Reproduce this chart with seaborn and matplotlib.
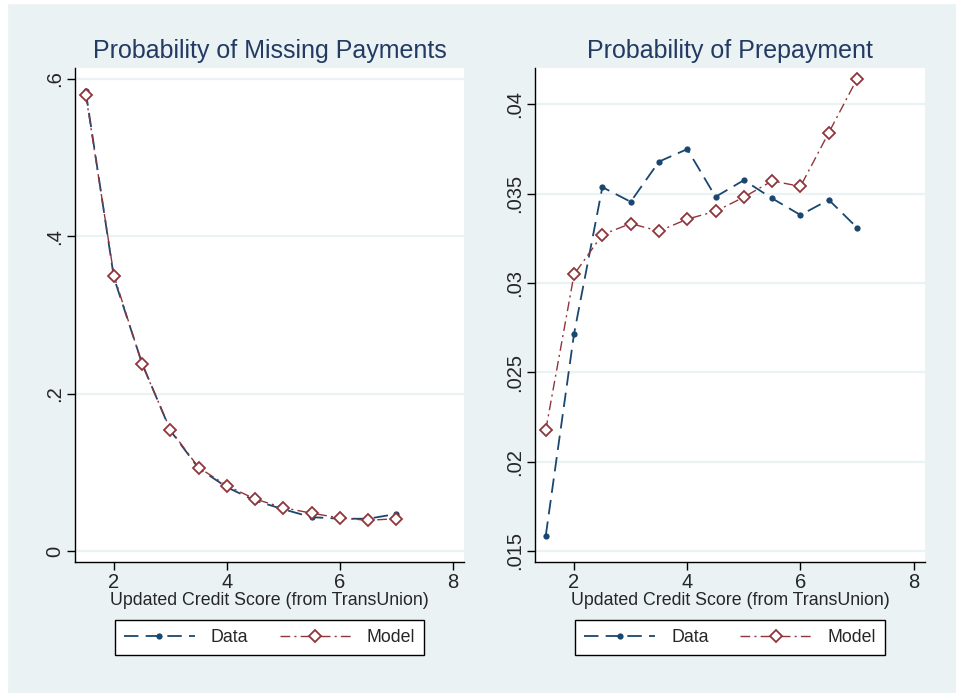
import numpy as np
import pandas as pd
import matplotlib
matplotlib.use("Agg")
import matplotlib.pyplot as plt
import seaborn as sns

# credit score bins
score = [1.5, 2, 2.5, 3, 3.5, 4, 4.5, 5, 5.5, 6, 6.5, 7]

# probability of missing payments
miss_data = [0.584, 0.347, 0.238, 0.153, 0.105, 0.081, 0.064, 0.053, 0.043, 0.041, 0.041, 0.047]
miss_model = [0.580, 0.350, 0.237, 0.154, 0.106, 0.083, 0.066, 0.055, 0.048, 0.042, 0.039, 0.041]

# probability of prepayment
prep_data = [0.01585, 0.02716, 0.03537, 0.03455, 0.0368, 0.0375, 0.03483,
             0.03576, 0.03474, 0.03381, 0.03466, 0.0331]
prep_model = [0.02177, 0.03048, 0.03271, 0.03333, 0.03291, 0.03358, 0.03402,
              0.03481, 0.03572, 0.03541, 0.03842, 0.04143]

titles = ["Probability of Missing Payments", "Probability of Prepayment"]
xlabel = "Updated Credit Score (from TransUnion)"
x_ticks = [2, 4, 6, 8]
left_yticks = [0, 0.2, 0.4, 0.6]
left_ylabels = ["0", ".2", ".4", ".6"]
right_yticks = [0.015, 0.02, 0.025, 0.03, 0.035, 0.04]
right_ylabels = [".015", ".02", ".025", ".03", ".035", ".04"]

BG = "#eaf2f3"
NAVY = "#1a476f"
MAROON = "#90353b"
TITLE = "#233a63"

sns.set_theme(style="white")
plt.rcParams['font.family'] = ['Liberation Sans', 'DejaVu Sans']

fig = plt.figure(figsize=(9.56, 6.93), dpi=100, facecolor=BG)
ax1 = fig.add_axes([75 / 956, 131 / 693, 389 / 956, 494.5 / 693])
ax2 = fig.add_axes([535 / 956, 131 / 693, 390 / 956, 494.5 / 693])

panels = [
    (ax1, miss_data, miss_model, left_yticks, left_ylabels, (-0.014, 0.6144)),
    (ax2, prep_data, prep_model, right_yticks, right_ylabels, (0.01438, 0.04207)),
]

for i, (ax, d, m, yt, yl, ylim) in enumerate(panels):
    df = pd.DataFrame({"score": score, "Data": d, "Model": m})
    ax.set_facecolor("white")
    for y in yt:
        ax.axhline(y, color=BG, lw=1.6, zorder=0)
    sns.lineplot(data=df, x="score", y="Data", ax=ax, color=NAVY, lw=1.3,
                 marker="o", markersize=4.5, markeredgewidth=0,
                 dashes=(8, 4), label="Data")
    sns.lineplot(data=df, x="score", y="Model", ax=ax, color=MAROON, lw=1.0,
                 marker="D", markersize=6.5, markerfacecolor="white",
                 markeredgecolor=MAROON, markeredgewidth=1.3,
                 dashes=(7, 3, 1.5, 3), label="Model")
    ax.set_xlim(1.31, 8.2)
    ax.set_ylim(*ylim)
    ax.set_xticks(x_ticks)
    ax.set_xticklabels([str(t) for t in x_ticks], fontsize=14.5)
    ax.set_yticks(yt)
    ax.set_yticklabels(yl, fontsize=14.5, rotation=90, va="center")
    ax.tick_params(axis="both", direction="out", length=6, width=1, color="black",
                   left=True, bottom=True, pad=2)
    for s in ["top", "right"]:
        ax.spines[s].set_visible(False)
    for s in ["left", "bottom"]:
        ax.spines[s].set_color("black")
        ax.spines[s].set_linewidth(1)
    ax.set_xlabel(xlabel, fontsize=12.8, labelpad=0)
    ax.set_ylabel("")
    ax.set_title(titles[i], fontsize=18, color=TITLE, pad=7)
    handles, labels = ax.get_legend_handles_labels()
    leg = ax.legend(handles, labels, loc="center", bbox_to_anchor=(0.5, -0.153),
                    ncol=2, frameon=True, fancybox=False, edgecolor="black",
                    facecolor="white", fontsize=12.8, handlelength=4.0,
                    handletextpad=0.9, columnspacing=1.75, borderpad=0.5,
                    framealpha=1)
    leg.get_frame().set_linewidth(1)

# thin white strip at the left and top edge
fig.patches.append(plt.Rectangle((0, 0), 7 / 956, 1, transform=fig.transFigure,
                                 color="white", zorder=-1))
fig.patches.append(plt.Rectangle((0, 1 - 3 / 693), 1, 3 / 693, transform=fig.transFigure,
                                 color="white", zorder=-1))

fig.savefig("out.png", dpi=100, facecolor=BG)
